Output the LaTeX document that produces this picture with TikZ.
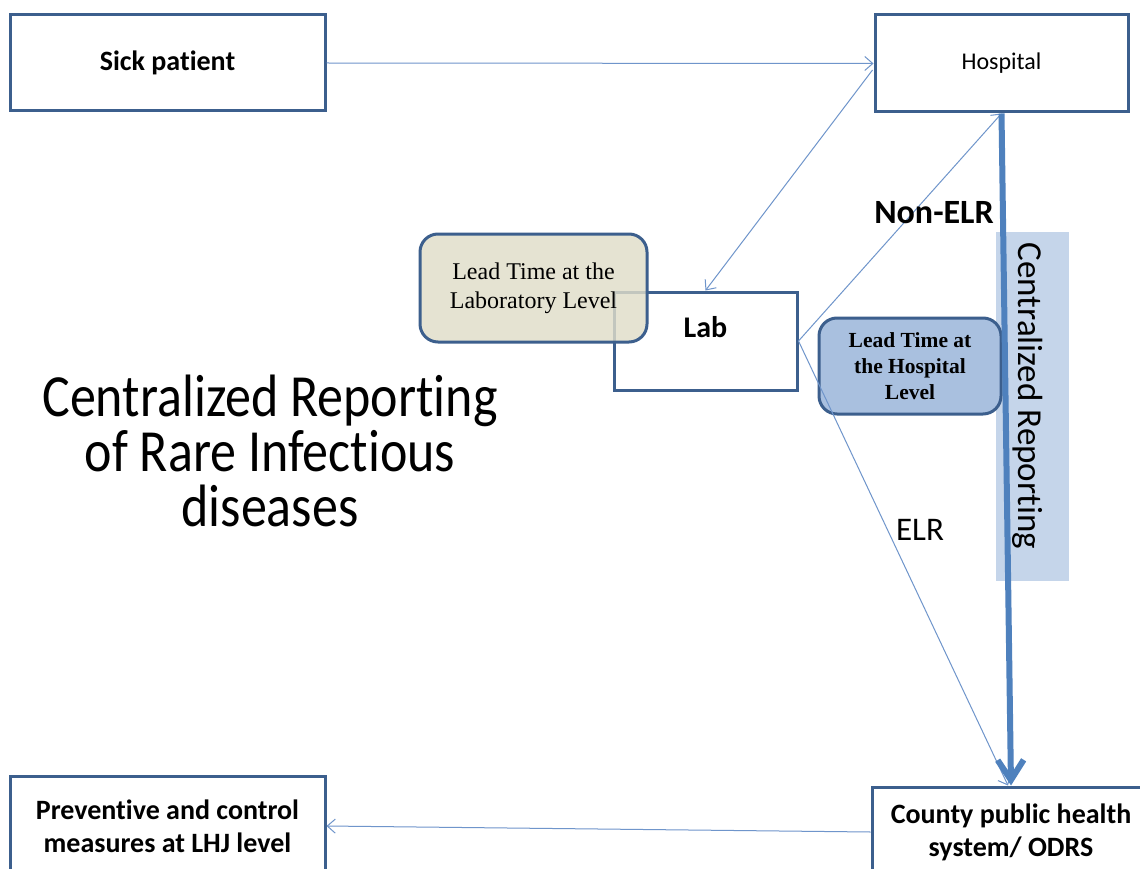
\documentclass[tikz,border=0pt]{standalone}
\usepackage{fontspec}
\setmainfont{Carlito}[Ligatures=NoCommon,Contextuals=NoAlternate]
\newfontfamily\tnr{Liberation Serif}
\usetikzlibrary{arrows.meta,calc}
\definecolor{boxblue}{HTML}{3C5F8D}
\definecolor{linkblue}{HTML}{4F81BD}
\definecolor{thinblue}{HTML}{6F95CB}
\definecolor{labtan}{HTML}{E0DDC9}
\definecolor{hosplead}{HTML}{A9C0DF}
\definecolor{barblue}{HTML}{C5D5EA}
\begin{document}
\begin{tikzpicture}[x=1pt,y=-1pt,
  sqbox/.style={draw=boxblue,line width=3pt,fill=white,inner sep=0pt,align=center},
  leadbox/.style={draw=boxblue,line width=3pt,rounded corners=18pt,inner sep=0pt,align=center},
  thinarrow/.style={draw=thinblue,line width=1pt,-{Straight Barb[length=8pt,width=14pt]}},
  thickarrow/.style={draw=linkblue,line width=6pt,-{Straight Barb[length=20pt,width=26pt]}},
  boldtext/.style={font=\bfseries\fontsize{28}{33}\selectfont}]
\fill[white] (0,0) rectangle (1140,869);
\useasboundingbox (0,0) rectangle (1140,869);

% shaded band behind the reporting path
\node[fill=barblue,minimum width=73pt,minimum height=349pt,inner sep=0pt] (bar) at (1032.5,406.5) {};
\node[rotate=-90,font=\fontsize{35}{42}\selectfont] (bartxt) at (1028,396) {Centralized Reporting};

% main boxes
\node[sqbox,boldtext,minimum width=315pt,minimum height=96pt] (sick) at (167.5,63) {Sick patient};
\node[sqbox,font=\fontsize{24}{29}\selectfont,minimum width=253pt,minimum height=97pt] (hosp) at (1001.5,63.5) {Hospital};
\node[sqbox,minimum width=183pt,minimum height=98pt] (lab) at (705.5,341) {};
\node[font=\bfseries\fontsize{30}{36}\selectfont] (labtxt) at (705.5,327) {Lab};
\node[sqbox,boldtext,minimum width=278pt,minimum height=90pt] (county) at (1011,832) {County public health\\system/ ODRS};
\node[sqbox,boldtext,minimum width=315pt,minimum height=100pt] (prev) at (167.5,826) {Preventive and control\\measures at LHJ level};

% lead-time callouts
\node[leadbox,fill=labtan,fill opacity=0.82,text opacity=1,minimum width=227pt,minimum height=108pt,
      font=\tnr\fontsize{24}{29}\selectfont] (leadlab) at (533.5,288) {Lead Time at the\\Laboratory Level};
\node[leadbox,fill=hosplead,minimum width=182pt,minimum height=96pt,
      font=\tnr\bfseries\fontsize{21.5}{26}\selectfont] (leadhosp) at (910,366) {Lead Time at\\the Hospital\\Level};

% connectors
\coordinate (hl) at ($(hosp.west)+(-1,6.5)$);
\coordinate (cn) at ($(county.north)+(-3,0)$);
\draw[thinarrow] (sick.east) -- (hosp.west);
\draw[thinarrow] (hl) -- (lab.north);
\draw[thinarrow] (lab.east) -- (hosp.south);
\draw[thinarrow] (lab.east) -- (cn);
\draw[thinarrow] (county.west) -- (prev.east);
\draw[thickarrow] (hosp.south) -- (county.north);

% labels
\node[font=\bfseries\fontsize{34}{40}\selectfont] (nonelr) at (934,213) {Non-ELR};
\node[font=\fontsize{33}{40}\selectfont] (elr) at (920,530) {ELR};

% title
\begin{scope}[shift={(270,451)},yscale=1.15]
\node[transform shape,align=center,font=\fontsize{52}{47.5}\selectfont] (title) at (0,0)
  {Centralized Reporting\\of Rare Infectious\\diseases};
\end{scope}
\end{tikzpicture}
\end{document}
